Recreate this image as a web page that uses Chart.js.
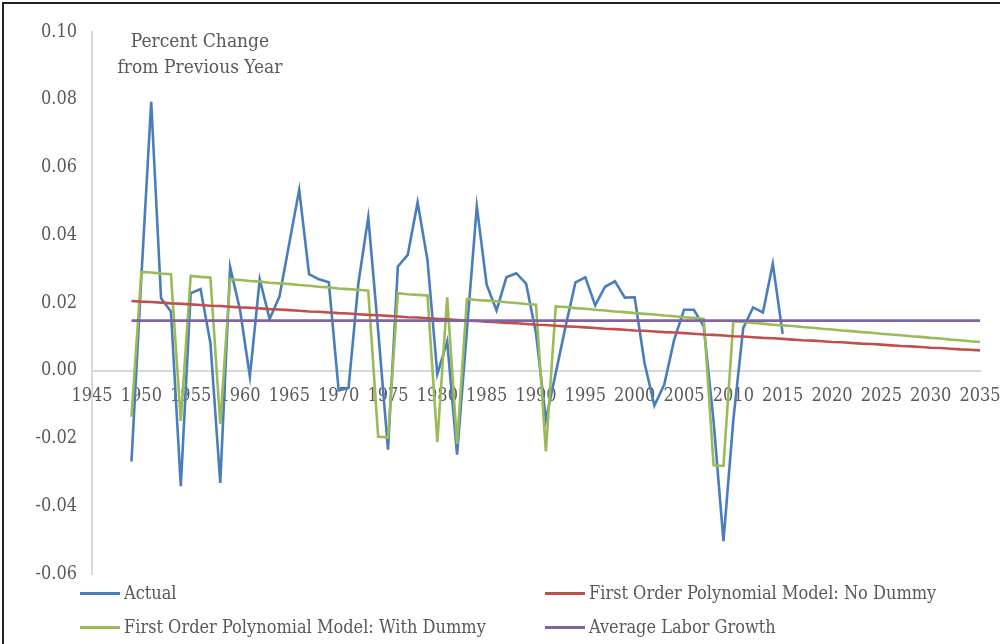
<!DOCTYPE html>
<html>
<head>
<meta charset="utf-8">
<script src="https://cdn.jsdelivr.net/npm/chart.js@4.4.1/dist/chart.umd.min.js"></script>
<style>
  html, body { margin: 0; padding: 0; background: #fff; }
  #wrap { position: relative; width: 1000px; height: 644px; overflow: hidden; }
  #frame { position: absolute; left: 2px; top: 2px; width: 1010px; height: 660px; border-top: 2px solid #222; border-left: 2px solid #222; box-sizing: border-box; pointer-events: none; }
  canvas { position: absolute; left: 0; top: 0; }
  #title { position: absolute; left: 100px; top: 27px; width: 200px; text-align: center; font-family: "DejaVu Serif Condensed", "DejaVu Serif", serif; font-stretch: condensed; font-size: 19px; line-height: 26px; color: #595959; }
  .lg { position: absolute; font-family: "DejaVu Serif Condensed", "DejaVu Serif", serif; font-stretch: condensed; font-size: 18px; color: #595959; line-height: 20px; white-space: nowrap; }
  .lg i { display: inline-block; width: 40px; height: 3px; vertical-align: middle; margin-right: 4px; position: relative; top: -1px; }
</style>
</head>
<body>
<div id="wrap">
  <canvas id="c" width="1000" height="644"></canvas>
  <div id="title">Percent Change<br>from Previous Year</div>
  <div class="lg" style="left:80px; top:583px;"><i style="background:#4A7EBB"></i>Actual</div>
  <div class="lg" style="left:545px; top:583px;"><i style="background:#C0504D"></i>First Order Polynomial Model: No Dummy</div>
  <div class="lg" style="left:80px; top:617px;"><i style="background:#9BBB59"></i>First Order Polynomial Model: With Dummy</div>
  <div class="lg" style="left:545px; top:617px;"><i style="background:#8064A2"></i>Average Labor Growth</div>
  <div id="frame"></div>
</div>
<script>
const years = [1949,1950,1951,1952,1953,1954,1955,1956,1957,1958,1959,1960,1961,1962,1963,1964,1965,1966,1967,1968,1969,
  1970,1971,1972,1973,1974,1975,1976,1977,1978,1979,1980,1981,1982,1983,1984,1985,1986,1987,1988,1989,
  1990,1991,1992,1993,1994,1995,1996,1997,1998,1999,2000,2001,2002,2003,2004,2005,2006,2007,2008,2009,
  2010,2011,2012,2013,2014,2015,2016,2017,2018,2019,2020,2021,2022,2023,2024,2025,2026,2027,2028,2029,
  2030,2031,2032,2033,2034,2035];

const actual = [-0.0268,0.0275,0.0794,0.0214,0.0175,-0.0341,0.0229,0.0241,0.0082,-0.0331,0.0306,0.0180,-0.0017,0.0270,0.0153,0.0219,0.0377,0.0534,0.0285,0.0270,0.0261,
  -0.0058,-0.0051,0.0259,0.0453,0.0120,-0.0233,0.0308,0.0342,0.0497,0.0327,-0.0010,0.0087,-0.0248,0.0120,0.0485,0.0254,0.0178,0.0276,0.0288,0.0257,
  0.0111,-0.0145,-0.0007,0.0131,0.0261,0.0276,0.0193,0.0248,0.0264,0.0216,0.0217,0.0023,-0.0103,-0.0041,0.0091,0.0180,0.0180,0.0131,-0.0150,-0.0503,
  -0.0145,0.0126,0.0187,0.0172,0.0316,0.0109];

const noDummy = [0.0206,0.0204,0.0203,0.0201,0.0199,0.0198,0.0196,0.0194,0.0192,0.0191,0.0189,0.0187,0.0186,0.0184,0.0182,0.0181,0.0179,0.0177,0.0175,0.0174,0.0172,
  0.0170,0.0169,0.0167,0.0165,0.0164,0.0162,0.0160,0.0158,0.0157,0.0155,0.0153,0.0152,0.0150,0.0148,0.0147,0.0145,0.0143,0.0141,0.0140,0.0138,
  0.0136,0.0135,0.0133,0.0131,0.0130,0.0128,0.0126,0.0124,0.0123,0.0121,0.0119,0.0118,0.0116,0.0114,0.0113,0.0111,0.0109,0.0107,0.0106,0.0104,
  0.0102,0.0101,0.0099,0.0097,0.0096,0.0094,0.0092,0.0090,0.0089,0.0087,0.0085,0.0084,0.0082,0.0080,0.0079,0.0077,0.0075,0.0073,0.0072,0.0070,
  0.0068,0.0067,0.0065,0.0063,0.0062,0.0060];

const withDummy = [-0.0136,0.0292,0.0290,0.0287,0.0285,-0.0148,0.0280,0.0277,0.0275,-0.0157,0.0270,0.0268,0.0265,0.0263,0.0260,0.0258,0.0256,0.0253,0.0251,0.0248,0.0246,
  0.0243,0.0241,0.0239,0.0236,-0.0194,-0.0197,0.0229,0.0226,0.0224,0.0222,-0.0211,0.0217,-0.0216,0.0212,0.0209,0.0207,0.0205,0.0202,0.0200,0.0197,
  0.0195,-0.0238,0.0190,0.0188,0.0185,0.0183,0.0180,0.0178,0.0175,0.0173,0.0170,0.0168,0.0166,0.0163,0.0161,0.0158,0.0156,0.0153,-0.0279,-0.0281,
  0.0146,0.0144,0.0141,0.0139,0.0136,0.0134,0.0132,0.0129,0.0127,0.0124,0.0122,0.0119,0.0117,0.0114,0.0112,0.0109,0.0107,0.0105,0.0102,0.0100,
  0.0097,0.0095,0.0092,0.0090,0.0087,0.0085];

const avgGrowth = [0.0148,0.0148,0.0148,0.0148,0.0148,0.0148,0.0148,0.0148,0.0148,0.0148,0.0148,0.0148,0.0148,0.0148,0.0148,0.0148,0.0148,0.0148,0.0148,0.0148,0.0148,
  0.0148,0.0148,0.0148,0.0148,0.0148,0.0148,0.0148,0.0148,0.0148,0.0148,0.0148,0.0148,0.0148,0.0148,0.0148,0.0148,0.0148,0.0148,0.0148,0.0148,
  0.0148,0.0148,0.0148,0.0148,0.0148,0.0148,0.0148,0.0148,0.0148,0.0148,0.0148,0.0148,0.0148,0.0148,0.0148,0.0148,0.0148,0.0148,0.0148,0.0148,
  0.0148,0.0148,0.0148,0.0148,0.0148,0.0148,0.0148,0.0148,0.0148,0.0148,0.0148,0.0148,0.0148,0.0148,0.0148,0.0148,0.0148,0.0148,0.0148,0.0148,
  0.0148,0.0148,0.0148,0.0148,0.0148,0.0148];

const xTicks = [1945,1950,1955,1960,1965,1970,1975,1980,1985,1990,1995,2000,2005,2010,2015,2020,2025,2030,2035];
const yTicks = [-0.06,-0.04,-0.02,0.00,0.02,0.04,0.06,0.08,0.10];

const pts = (vals) => vals.map((v, i) => ({ x: years[i], y: v }));
const FONT = '"DejaVu Serif Condensed", "DejaVu Serif", serif';

const ds = (label, vals, color) => ({
  label, data: pts(vals), borderColor: color, backgroundColor: color,
  borderWidth: 2.6, pointRadius: 0, tension: 0, fill: false
});

new Chart(document.getElementById('c'), {
  type: 'line',
  data: {
    datasets: [
      ds('Average Labor Growth', avgGrowth, '#8064A2'),
      ds('First Order Polynomial Model: No Dummy', noDummy, '#C0504D'),
      ds('First Order Polynomial Model: With Dummy', withDummy, '#9BBB59'),
      ds('Actual', actual, '#4A7EBB')
    ]
  },
  options: {
    responsive: false,
    animation: false,
    layout: { padding: { left: 0, right: 20, top: 32, bottom: 70 } },
    plugins: { legend: { display: false }, tooltip: { enabled: false } },
    scales: {
      x: {
        type: 'linear',
        position: { y: 0 },
        min: 1945, max: 2035,
        afterBuildTicks: (s) => { s.ticks = xTicks.map(v => ({ value: v })); },
        afterFit: (s) => { s.paddingRight = 0; s.paddingLeft = 0; },
        grid: { display: false, drawTicks: false },
        border: { display: true, color: '#D9D9D9', width: 2 },
        ticks: { color: '#595959', padding: 15, maxRotation: 0, autoSkip: false,
          font: { family: FONT, size: 18 }, callback: (v) => String(v) }
      },
      y: {
        min: -0.06, max: 0.10,
        afterBuildTicks: (s) => { s.ticks = yTicks.map(v => ({ value: v })); },
        afterFit: (s) => { s.width = 92; s.paddingTop = 0; s.paddingBottom = 0; },
        grid: { display: false, drawTicks: false },
        border: { display: true, color: '#D9D9D9', width: 2 },
        ticks: { color: '#595959', padding: 15, font: { family: FONT, size: 18 },
          callback: (v) => Number(v).toFixed(2) }
      }
    }
  }
});
</script>
</body>
</html>
